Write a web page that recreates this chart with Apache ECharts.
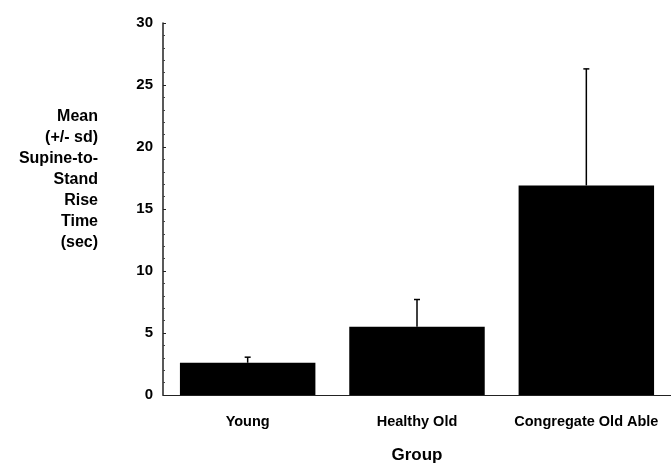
<!DOCTYPE html>
<html>
<head>
<meta charset="utf-8">
<script src="https://cdn.jsdelivr.net/npm/echarts@6/dist/echarts.min.js"></script>
<style>html,body{margin:0;padding:0;background:#fff}#c{width:671px;height:467px}</style>
</head>
<body>
<div id="c"></div>
<script>
var categories = ['Young', 'Healthy Old', 'Congregate Old Able'];
var means = [2.6, 5.5, 16.9];
var sds = [0.45, 2.2, 9.4];
var yTicks = [0, 5, 10, 15, 20, 25, 30];
var titleLines = ['Mean', '(+/- sd)', 'Supine-to-', 'Stand', 'Rise', 'Time', '(sec)'];

var font = '"Liberation Sans", Arial, sans-serif';
var chart = echarts.init(document.getElementById('c'));
var errData = categories.map(function (c, i) { return [i, means[i], means[i] + sds[i]]; });

var titleGraphics = titleLines.map(function (t, i) {
  return {
    type: 'text', x: 98, y: 117 + i * 21,
    style: { text: t, font: 'bold 16px ' + font, fill: '#000', align: 'right', verticalAlign: 'middle' }
  };
});

chart.setOption({
  animation: false,
  backgroundColor: '#fff',
  grid: { left: 163, right: 0, top: 23, bottom: 72, containLabel: false, outerBoundsMode: 'none' },
  graphic: titleGraphics,
  xAxis: {
    type: 'category', data: categories,
    name: 'Group', nameLocation: 'middle', nameGap: 52,
    nameTextStyle: { fontFamily: font, fontWeight: 'bold', fontSize: 17, color: '#000' },
    axisLine: { lineStyle: { color: '#222', width: 1.2 } },
    axisTick: { show: false },
    axisLabel: { interval: 0, hideOverlap: false, fontFamily: font, fontWeight: 'bold', fontSize: 14.5, color: '#000', margin: 19 }
  },
  yAxis: {
    type: 'value', min: 0, max: 30, interval: 5,
    axisLine: { show: true, lineStyle: { color: '#222', width: 1.5 } },
    axisTick: { show: true, inside: true, length: 3, lineStyle: { color: '#222' } },
    minorTick: { show: true, splitNumber: 5, length: 2, lineStyle: { color: '#444' } },
    splitLine: { show: false },
    axisLabel: {
      fontFamily: font, fontWeight: 'bold', fontSize: 15, color: '#000', margin: 10,
      formatter: function (v) { return yTicks.indexOf(v) >= 0 ? String(v) : ''; }
    }
  },
  series: [{
    type: 'bar', data: means, barWidth: '80%',
    itemStyle: { color: '#000' }
  }, {
    type: 'custom', data: errData, z: 5,
    renderItem: function (params, api) {
      var x = api.value(0);
      var b = api.coord([x, api.value(1)]);
      var t = api.coord([x, api.value(2)]);
      var cw = 3;
      return {
        type: 'group',
        children: [
          { type: 'line', shape: { x1: t[0], y1: b[1], x2: t[0], y2: t[1] }, style: { stroke: '#000', lineWidth: 1.5 } },
          { type: 'line', shape: { x1: t[0] - cw, y1: t[1], x2: t[0] + cw, y2: t[1] }, style: { stroke: '#000', lineWidth: 1.5 } }
        ]
      };
    }
  }]
});
</script>
</body>
</html>
